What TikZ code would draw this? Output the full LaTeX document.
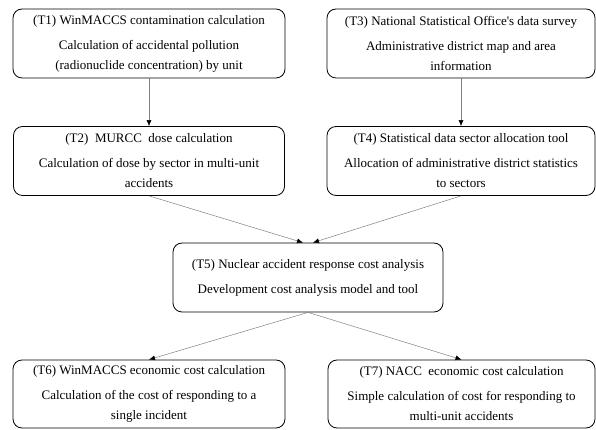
\documentclass[tikz,border=0pt]{standalone}
\usepackage{fontspec}
\setmainfont{Liberation Serif}
\usepackage{tikz}
\usetikzlibrary{arrows.meta}

\begin{document}
\begin{tikzpicture}[x=1pt, y=1pt, thin,
		taskbox/.style={draw, line width=0.8pt, rounded corners=9pt, align=center, inner sep=0pt,
			font=\fontsize{13}{20}\selectfont, minimum height=69pt},
		flow/.style={draw=gray, line width=0.5pt, -{Latex[black, length=6pt, width=5pt]}}]
		\useasboundingbox (0,0) rectangle (596,430);
		% upper row
		\node[taskbox, minimum width=272pt] (t1) at (149,386.5) {(T1) WinMACCS contamination calculation\\[5pt]
			Calculation of accidental pollution\\(radionuclide concentration) by unit};
		\node[taskbox, minimum width=268pt] (t3) at (461,386.5) {(T3) National Statistical Office\textquotesingle s data survey\\[5pt]
			Administrative district map and area\\information};
		% second row
		\node[taskbox, minimum width=271pt] (t2) at (149,269) {(T2)\enspace MURCC\enspace dose calculation\\[5pt]
			Calculation of dose by sector in multi-unit\\accidents};
		\node[taskbox, minimum width=268pt] (t4) at (461,269) {(T4) Statistical data sector allocation tool\\[5pt]
			Allocation of administrative district statistics\\to sectors};
		% cost analysis
		\node[taskbox, minimum width=270pt] (t5) at (308,152.5) {(T5) Nuclear accident response cost analysis\\[5pt]
			Development cost analysis model and tool};
		% lower row
		\node[taskbox, minimum width=272pt, minimum height=68pt] (t6) at (149,36) {(T6) WinMACCS economic cost calculation\\[5pt]
			Calculation of the cost of responding to a\\single incident};
		\node[taskbox, minimum width=267pt, minimum height=68pt] (t7) at (461.5,36) {(T7) NACC\enspace economic cost calculation\\[5pt]
			Simple calculation of cost for responding to\\multi-unit accidents};
		% connectors
		\draw[flow] (t1.south) -- (t2.north);
		\draw[flow] (t3.south) -- (t4.north);
		\draw[flow] (t2.south) -- ([xshift=-5pt]t5.north);
		\draw[flow] (t4.south) -- ([xshift=5pt]t5.north);
		\draw[flow] (t5.south) -- (t6.north);
		\draw[flow] (t5.south) -- (t7.north);
	\end{tikzpicture}
\end{document}
